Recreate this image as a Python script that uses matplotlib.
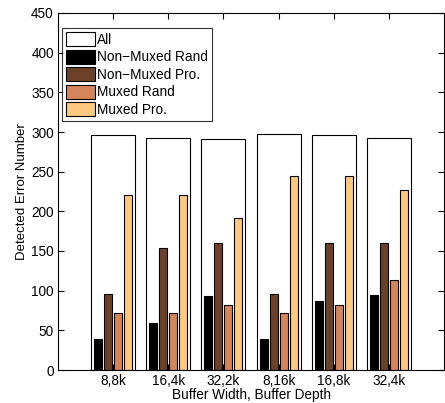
import numpy as np
import matplotlib
matplotlib.use("Agg")
import matplotlib.pyplot as plt
from matplotlib.patches import Patch

plt.rcParams['font.family'] = ['Liberation Sans', 'DejaVu Sans']

configs = ["8,8k", "16,4k", "32,2k", "8,16k", "16,8k", "32,4k"]
all_errors = [296, 293, 291, 297, 296, 293]
nonmuxed_rand = [39, 59, 93, 39, 87, 94]
nonmuxed_pro = [96, 154, 160, 96, 160, 160]
muxed_rand = [72, 72, 82, 72, 82, 113]
muxed_pro = [220, 220, 191, 244, 244, 227]

series = [nonmuxed_rand, nonmuxed_pro, muxed_rand, muxed_pro]
names = ["Non\u2212Muxed Rand", "Non\u2212Muxed Pro.", "Muxed Rand", "Muxed Pro."]
colors = ["#000000", "#6B4229", "#D4855A", "#FFC880"]

fig = plt.figure(figsize=(4.45, 4.03), dpi=100)
ax = fig.add_axes([58 / 445, 1 - 370 / 403, 386 / 445, 357 / 403])

x = np.arange(1, len(configs) + 1)
ax.bar(x, all_errors, width=0.8, color="white", edgecolor="black", linewidth=0.8, zorder=1)
step = 0.182
for i, (vals, c) in enumerate(zip(series, colors)):
    ax.bar(x + (i - 1.5) * step, vals, width=0.145, color=c,
           edgecolor="black", linewidth=0.8, zorder=2)

ax.set_xlim(0, 7)
ax.set_ylim(0, 450)
ax.set_yticks(range(0, 451, 50))
ax.set_xticks(x)
ax.set_xticklabels(configs)
ax.tick_params(direction="in", labelsize=9.8, top=True, right=True, length=4, pad=3)
ax.set_xlabel("Buffer Width, Buffer Depth", fontsize=9.8, labelpad=0)
ax.set_ylabel("Detected Error Number", fontsize=9.5, labelpad=2)

handles = [Patch(facecolor="white", edgecolor="black", linewidth=0.8, label="All")]
handles += [Patch(facecolor=c, edgecolor="black", linewidth=0.8, label=n)
            for c, n in zip(colors, names)]
leg = ax.legend(handles=handles, loc="upper left", fontsize=9.8, frameon=True,
                fancybox=False, edgecolor="black", handlelength=2.1, handleheight=1.25,
                handletextpad=0.2, labelspacing=0.2, borderpad=0.3, borderaxespad=0,
                bbox_to_anchor=(0.01, 0.958))
leg.get_frame().set_linewidth(0.8)

fig.savefig("out.png", dpi=100)
